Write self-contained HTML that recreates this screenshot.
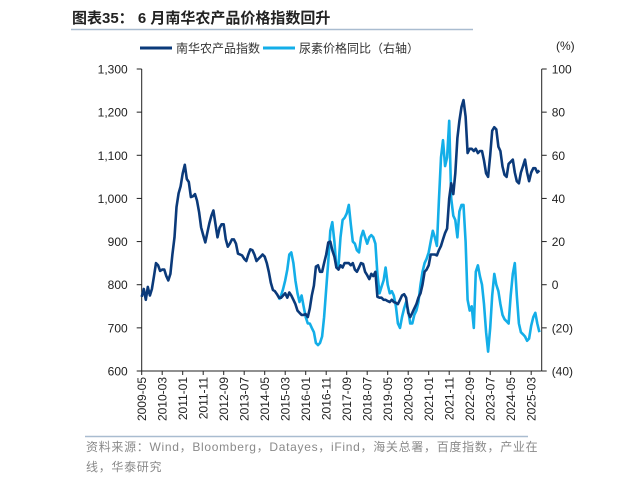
<!DOCTYPE html>
<html><head><meta charset="utf-8">
<style>
body{margin:0;background:#fff;}
svg text{font-family:"Liberation Sans","Noto Sans CJK SC",sans-serif;}
</style></head>
<body>
<svg width="644" height="486" viewBox="0 0 644 486">
<text x="72" y="23" font-size="15" font-weight="bold" fill="#222">图表35：  6 月南华农产品价格指数回升</text>
<line x1="71" y1="29.5" x2="473" y2="29.5" stroke="#a9bcd0" stroke-width="1.5"/>
<g>
<g><line x1="140" y1="48" x2="172" y2="48" stroke="#0b3a7a" stroke-width="3"/><text x="176" y="52.5" font-size="12" fill="#333">南华农产品指数</text></g>
<g><line x1="263" y1="48" x2="295" y2="48" stroke="#13aee8" stroke-width="3"/><text x="299" y="52.5" font-size="12" fill="#333">尿素价格同比（右轴）</text></g>
</g>
<text x="556" y="50" font-size="12" fill="#222" text-anchor="start">(%)</text>
<g id="axes"></g>
<g id="marks"></g>
<line x1="85" y1="436.5" x2="528" y2="436.5" stroke="#a9bcd0" stroke-width="1.5"/>
<text x="86" y="451" font-size="12" fill="#8a8a8a" letter-spacing="0.7">资料来源：Wind，Bloomberg，Datayes，iFind，海关总署，百度指数，产业在</text>
<text x="86" y="471" font-size="12" fill="#8a8a8a" letter-spacing="0.7">线，华泰研究</text>
</svg>
<script>
const indexValues=[772,790,765,795,775,790,820,850,845,832,835,835,820,810,825,870,910,980,1012,1028,1058,1078,1045,1038,1003,1005,1010,995,968,933,915,898,920,942,960,972,940,910,932,940,940,905,888,895,905,905,895,872,870,868,860,855,870,882,880,870,855,860,865,870,865,850,830,805,788,785,778,770,770,775,780,770,782,775,765,755,740,735,730,730,732,725,745,775,798,842,845,830,830,850,870,898,900,880,865,840,835,845,840,850,850,850,845,850,835,830,840,850,848,830,822,813,825,820,830,772,770,770,765,765,762,760,765,760,758,755,765,775,778,770,735,725,735,745,755,770,780,800,830,835,845,870,870,870,868,880,890,905,920,930,1000,1035,1010,1058,1140,1180,1212,1228,1190,1105,1115,1115,1110,1115,1105,1110,1110,1088,1058,1050,1100,1157,1165,1160,1120,1110,1074,1055,1050,1080,1085,1090,1060,1040,1035,1060,1075,1090,1060,1040,1060,1070,1070,1060,1065];
const ureaStart=67;
const ureaValues=[-7,-5,-2,2,7,14,15,10,2,-4,-8,-5,-10,-15,-18,-18,-20,-22,-27,-28,-27,-24,-15,-2,11,25,29,20,8,9,22,30,31,33,37,28,20,19,16,15,22,25,22,19,22,23,22,19,5,-4,-1,2,8,0,-4,-3,-5,-10,-18,-20,-15,-11,-8,-12,-18,-18,-14,-12,-8,0,6,10,12,15,20,25,22,18,39,59,67,55,59,76,40,32,30,22,34,37,37,20,-7,-12,-10,-20,6,9,4,0,-9,-22,-31,-20,-5,5,0,-3,-9,-14,-16,-17,-18,-5,5,10,-5,-18,-22,-23,-24,-26,-25,-19,-15,-13,-18,-22];
const xTickLabels=["2009-05","2010-03","2011-01","2011-11","2012-09","2013-07","2014-05","2015-03","2016-01","2016-11","2017-09","2018-07","2019-05","2020-03","2021-01","2021-11","2022-09","2023-07","2024-05","2025-03"];
const leftTicks=[600,700,800,900,1000,1100,1200,1300];
const rightTicks=[-40,-20,0,20,40,60,80,100];

const X0=141.7,MPX=2.05,YT=69,YB=371,XR=541.7;
const xS=m=>X0+m*MPX;
const yL=v=>YT+(1300-v)/700*(YB-YT);
const yR=v=>YT+(100-v)/140*(YB-YT);
const NS="http://www.w3.org/2000/svg";
const axes=document.getElementById('axes'),marks=document.getElementById('marks');
function mk(tag,attrs,parent){const e=document.createElementNS(NS,tag);for(const k in attrs)e.setAttribute(k,attrs[k]);parent.appendChild(e);return e;}
const fmt=v=>v.toLocaleString('en-US');
let e;
e=mk('line',{x1:X0,y1:YT,x2:X0,y2:YB,stroke:'#222','stroke-width':1},axes);


e=mk('line',{x1:XR,y1:YT,x2:XR,y2:YB,stroke:'#222','stroke-width':1},axes);


e=mk('line',{x1:X0,y1:YB,x2:XR,y2:YB,stroke:'#222','stroke-width':1},axes);


leftTicks.forEach(v=>{const y=yL(v);
 mk('line',{x1:X0-5,y1:y,x2:X0,y2:y,stroke:'#222'},axes);
 e=mk('text',{x:X0-14,y:y+4.5,'font-size':12,'text-anchor':'end',fill:'#222'},axes);e.textContent=fmt(v);
 
 });
rightTicks.forEach(v=>{const y=yR(v);
 mk('line',{x1:XR,y1:y,x2:XR+5,y2:y,stroke:'#222'},axes);
 e=mk('text',{x:XR+10,y:y+4.5,'font-size':12,fill:'#222'},axes);e.textContent=v<0?'('+(-v)+')':String(v);
 
 });
xTickLabels.forEach((lab,i)=>{const x=xS(i*10);
 mk('line',{x1:x,y1:YB,x2:x,y2:YB+4,stroke:'#222'},axes);
 e=mk('text',{x:0,y:0,'font-size':12,'text-anchor':'end',fill:'#222',transform:`translate(${x+4.5},${YB+6}) rotate(-90)`},axes);e.textContent=lab;
 
 });
let d1=indexValues.map((v,i)=>(i?'L':'M')+xS(i).toFixed(1)+','+yL(v).toFixed(1)).join('');
let d2=ureaValues.map((v,i)=>(i?'L':'M')+xS(ureaStart+i).toFixed(1)+','+yR(v).toFixed(1)).join('');
e=mk('path',{d:d2,fill:'none',stroke:'#13aee8','stroke-width':2.6,'stroke-linejoin':'round'},marks);


e=mk('path',{d:d1,fill:'none',stroke:'#0b3a7a','stroke-width':2.6,'stroke-linejoin':'round'},marks);


</script>
</body></html>
